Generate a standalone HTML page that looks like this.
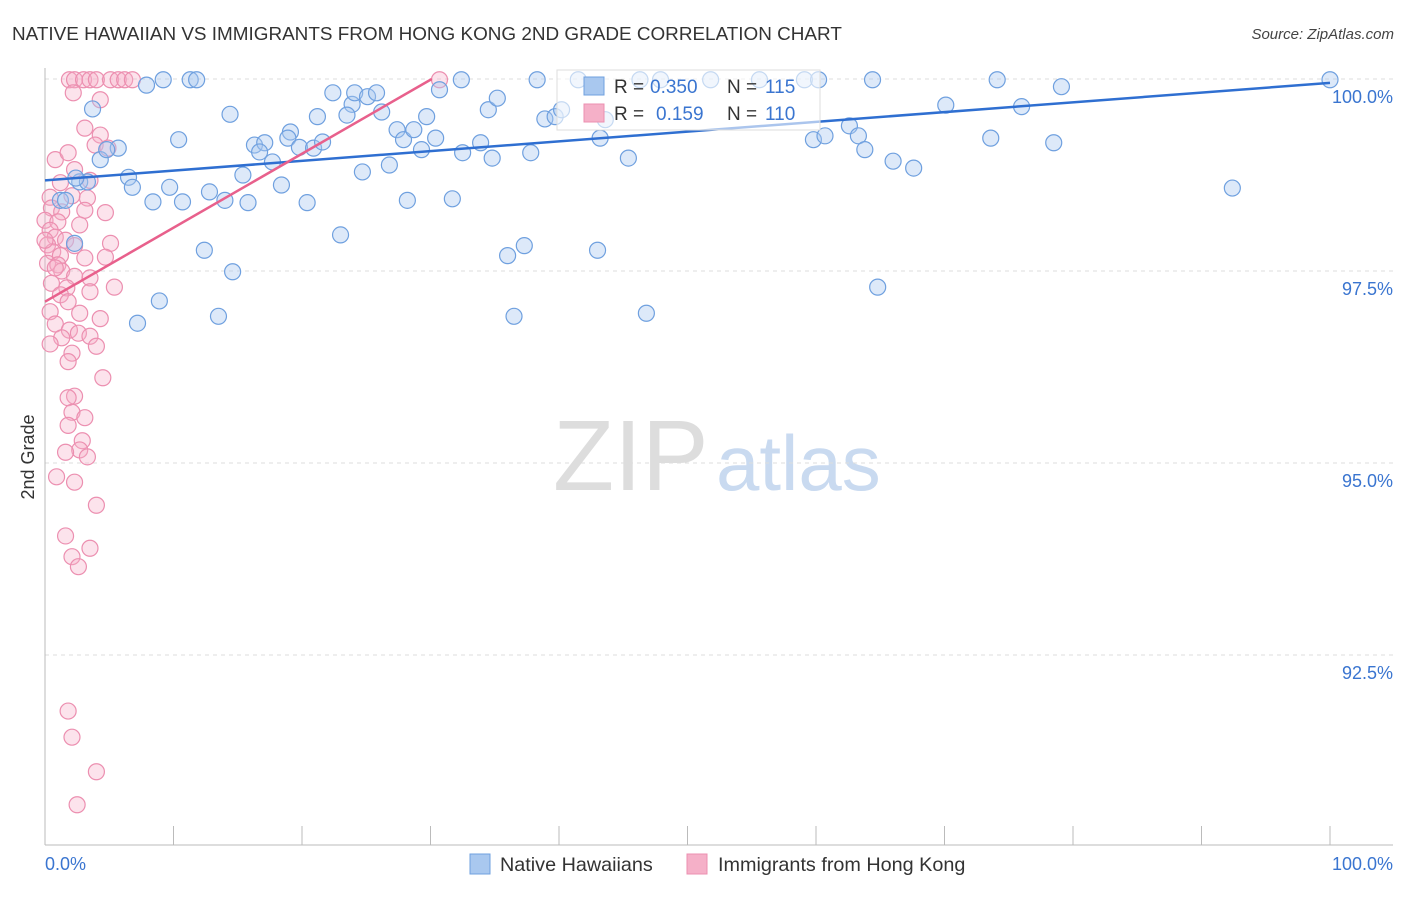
<!DOCTYPE html>
<html><head><meta charset="utf-8"><style>
body{margin:0;background:#fff;font-family:"Liberation Sans",sans-serif;}
svg text{font-family:"Liberation Sans",sans-serif;}
</style></head><body>
<svg id="chart" width="1406" height="892" xmlns="http://www.w3.org/2000/svg">
<text x="12" y="40" font-size="18.9" fill="#333">NATIVE HAWAIIAN VS IMMIGRANTS FROM HONG KONG 2ND GRADE CORRELATION CHART</text>
<text x="1394" y="39" font-size="15" fill="#444" font-style="italic" text-anchor="end">Source: ZipAtlas.com</text>
<g>
<text x="553" y="490" font-size="100" font-family="Liberation Serif" fill="#ddd">ZIP</text>
<text x="716" y="490" font-size="78" fill="#c9daf0">atlas</text>
</g>
<g id="grid"></g>
<g id="axes"></g>
<g id="pts"></g>
<g id="lines"></g>
<text transform="translate(34,457) rotate(-90)" font-size="18" fill="#333" text-anchor="middle">2nd Grade</text>
<g>
<rect x="557" y="70" width="263" height="60" fill="#fff" fill-opacity="0.6" stroke="#ddd"/>
<rect x="584" y="77" width="20" height="18" fill="#a9c8ef" stroke="#6fa0df"/>
<text x="614" y="93" font-size="19" fill="#333">R = </text><text x="650" y="93" font-size="19" fill="#3a75d0">0.350</text>
<text x="727" y="93" font-size="19" fill="#333">N = </text><text x="765" y="93" font-size="19" fill="#3a75d0">115</text>
<rect x="584" y="104" width="20" height="18" fill="#f5b0c8" stroke="#ec8fb0"/>
<text x="614" y="120" font-size="19" fill="#333">R = </text><text x="656" y="120" font-size="19" fill="#3a75d0">0.159</text>
<text x="727" y="120" font-size="19" fill="#333">N = </text><text x="765" y="120" font-size="19" fill="#3a75d0">110</text>
</g>
<g>
<rect x="470" y="854" width="20" height="20" fill="#a9c8ef" stroke="#6fa0df"/>
<text x="500" y="871" font-size="19.8" fill="#333">Native Hawaiians</text></g>
<g>
<rect x="687" y="854" width="20" height="20" fill="#f5b0c8" stroke="#ec8fb0"/>
<text x="718" y="871" font-size="19.8" fill="#333">Immigrants from Hong Kong</text></g>
</svg>
<script>
const blueX=[9.2,11.3,11.8,7.9,3.7,10.4,14.4,4.3,5.7,4.8,2.7,3.3,1.2,6.5,6.8,8.4,9.7,10.7,12.8,14.0,15.8,15.4,16.3,17.1,16.7,17.7,18.4,19.1,18.9,19.8,20.9,21.2,21.6,20.4,22.4,23.9,24.1,25.1,25.8,23.5,26.2,24.7,26.8,27.4,27.9,28.7,29.3,29.7,30.4,28.2,31.7,23.0,30.7,32.4,34.5,35.2,32.5,33.9,34.8,37.8,38.3,38.9,39.7,40.2,36.0,37.3,36.5,43.0,43.2,41.5,43.6,45.4,46.8,46.3,47.9,51.8,55.6,59.1,60.2,59.8,60.7,62.6,63.3,63.8,66.0,67.6,64.4,64.8,70.1,73.6,74.1,76.0,78.5,79.1,92.4,100.0,14.6,12.4,8.9,13.5,7.2,1.6,2.4,2.3];
const blueY=[99.99,99.99,99.99,99.92,99.61,99.21,99.54,98.95,99.10,99.08,98.66,98.66,98.42,98.72,98.59,98.40,98.59,98.40,98.53,98.42,98.39,98.75,99.14,99.17,99.05,98.92,98.62,99.31,99.23,99.11,99.10,99.51,99.18,98.39,99.82,99.67,99.82,99.77,99.82,99.53,99.57,98.79,98.88,99.34,99.21,99.34,99.08,99.51,99.23,98.42,98.44,97.97,99.86,99.99,99.60,99.75,99.04,99.17,98.97,99.04,99.99,99.48,99.51,99.60,97.70,97.83,96.91,97.77,99.23,99.99,99.47,98.97,96.95,99.99,99.99,99.99,99.99,99.99,99.99,99.21,99.26,99.39,99.26,99.08,98.93,98.84,99.99,97.29,99.66,99.23,99.99,99.64,99.17,99.90,98.58,99.99,97.49,97.77,97.11,96.91,96.82,98.42,98.71,97.86];
const pinkX=[1.9,2.3,3.0,3.5,4.0,5.1,5.7,6.2,6.8,2.2,3.1,4.3,3.9,4.9,0.8,1.8,2.3,3.5,1.2,2.1,0.4,3.3,0.5,1.3,3.1,4.7,0.0,1.0,2.7,0.4,0.8,1.6,0.2,2.3,5.1,0.6,1.2,3.1,4.7,0.2,1.0,1.3,2.3,3.5,0.5,1.7,5.4,3.5,1.2,1.8,0.4,2.7,4.3,0.8,1.9,2.6,3.5,1.3,0.4,4.0,2.1,1.8,4.5,2.3,1.8,2.1,3.1,1.8,2.9,2.7,1.6,3.3,0.9,2.3,4.0,1.6,3.5,2.1,2.6,1.8,2.1,4.0,2.5,30.7,4.3,0.8,0.0];
const pinkY=[99.99,99.99,99.99,99.99,99.99,99.99,99.99,99.99,99.99,99.82,99.36,99.27,99.14,99.10,98.95,99.04,98.82,98.68,98.65,98.48,98.46,98.45,98.32,98.27,98.29,98.26,98.16,98.14,98.10,98.03,97.94,97.90,97.84,97.83,97.86,97.75,97.70,97.67,97.68,97.60,97.58,97.50,97.43,97.41,97.34,97.28,97.29,97.23,97.19,97.10,96.97,96.95,96.88,96.81,96.73,96.69,96.65,96.63,96.55,96.52,96.43,96.32,96.11,95.87,95.85,95.66,95.59,95.49,95.29,95.17,95.14,95.08,94.82,94.75,94.45,94.05,93.89,93.78,93.65,91.77,91.43,90.98,90.55,99.99,99.73,97.54,97.90];
const yTicks=[100,97.5,95,92.5];
const yTickLabels=["100.0%","97.5%","95.0%","92.5%"];
const blueFit=[0,98.68,100,99.95];
const pinkFit=[0,97.10,30.1,100.0];
const NS="http://www.w3.org/2000/svg";
const sx=v=>45+v*12.85, sy=v=>79+(100-v)*76.8;
function mk(tag,attrs,parent){const e=document.createElementNS(NS,tag);for(const k in attrs)e.setAttribute(k,attrs[k]);document.getElementById(parent).appendChild(e);return e;}
yTicks.forEach((t,i)=>{
 const g=mk('line',{x1:45,x2:1393,y1:sy(t),y2:sy(t),stroke:'#ddd','stroke-dasharray':'4,4'},'grid');
 
 
 const l=mk('text',{x:1393,y:sy(t)+24,'font-size':18,fill:'#3a75d0','text-anchor':'end'},'axes');
 l.textContent=yTickLabels[i];
 
 
});
mk('line',{x1:45,x2:45,y1:68,y2:845,stroke:'#bbb'},'axes');
mk('line',{x1:45,x2:1393,y1:845,y2:845,stroke:'#bbb'},'axes');
for(let i=0;i<=10;i++){const t=mk('line',{x1:sx(i*10),x2:sx(i*10),y1:826,y2:845,stroke:'#bbb'},'axes');
 
 }
const x0=mk('text',{x:45,y:870,'font-size':18,fill:'#3a75d0'},'axes');x0.textContent='0.0%';


const x1=mk('text',{x:1393,y:870,'font-size':18,fill:'#3a75d0','text-anchor':'end'},'axes');x1.textContent='100.0%';


pinkX.forEach((v,i)=>{const c=mk('circle',{cx:sx(v),cy:sy(pinkY[i]),r:8,fill:'#f5b0c8','fill-opacity':0.35,stroke:'#ec8fb0','stroke-width':1.2},'pts');
 
 });
blueX.forEach((v,i)=>{const c=mk('circle',{cx:sx(v),cy:sy(blueY[i]),r:8,fill:'#a9c8ef','fill-opacity':0.4,stroke:'#6fa0df','stroke-width':1.2},'pts');
 
 });
const bl=mk('line',{x1:sx(blueFit[0]),y1:sy(blueFit[1]),x2:sx(blueFit[2]),y2:sy(blueFit[3]),stroke:'#2f6fd1','stroke-width':2.5},'lines');


const pl=mk('line',{x1:sx(pinkFit[0]),y1:sy(pinkFit[1]),x2:sx(pinkFit[2]),y2:sy(pinkFit[3]),stroke:'#e8608c','stroke-width':2.5},'lines');


</script>
</body></html>
